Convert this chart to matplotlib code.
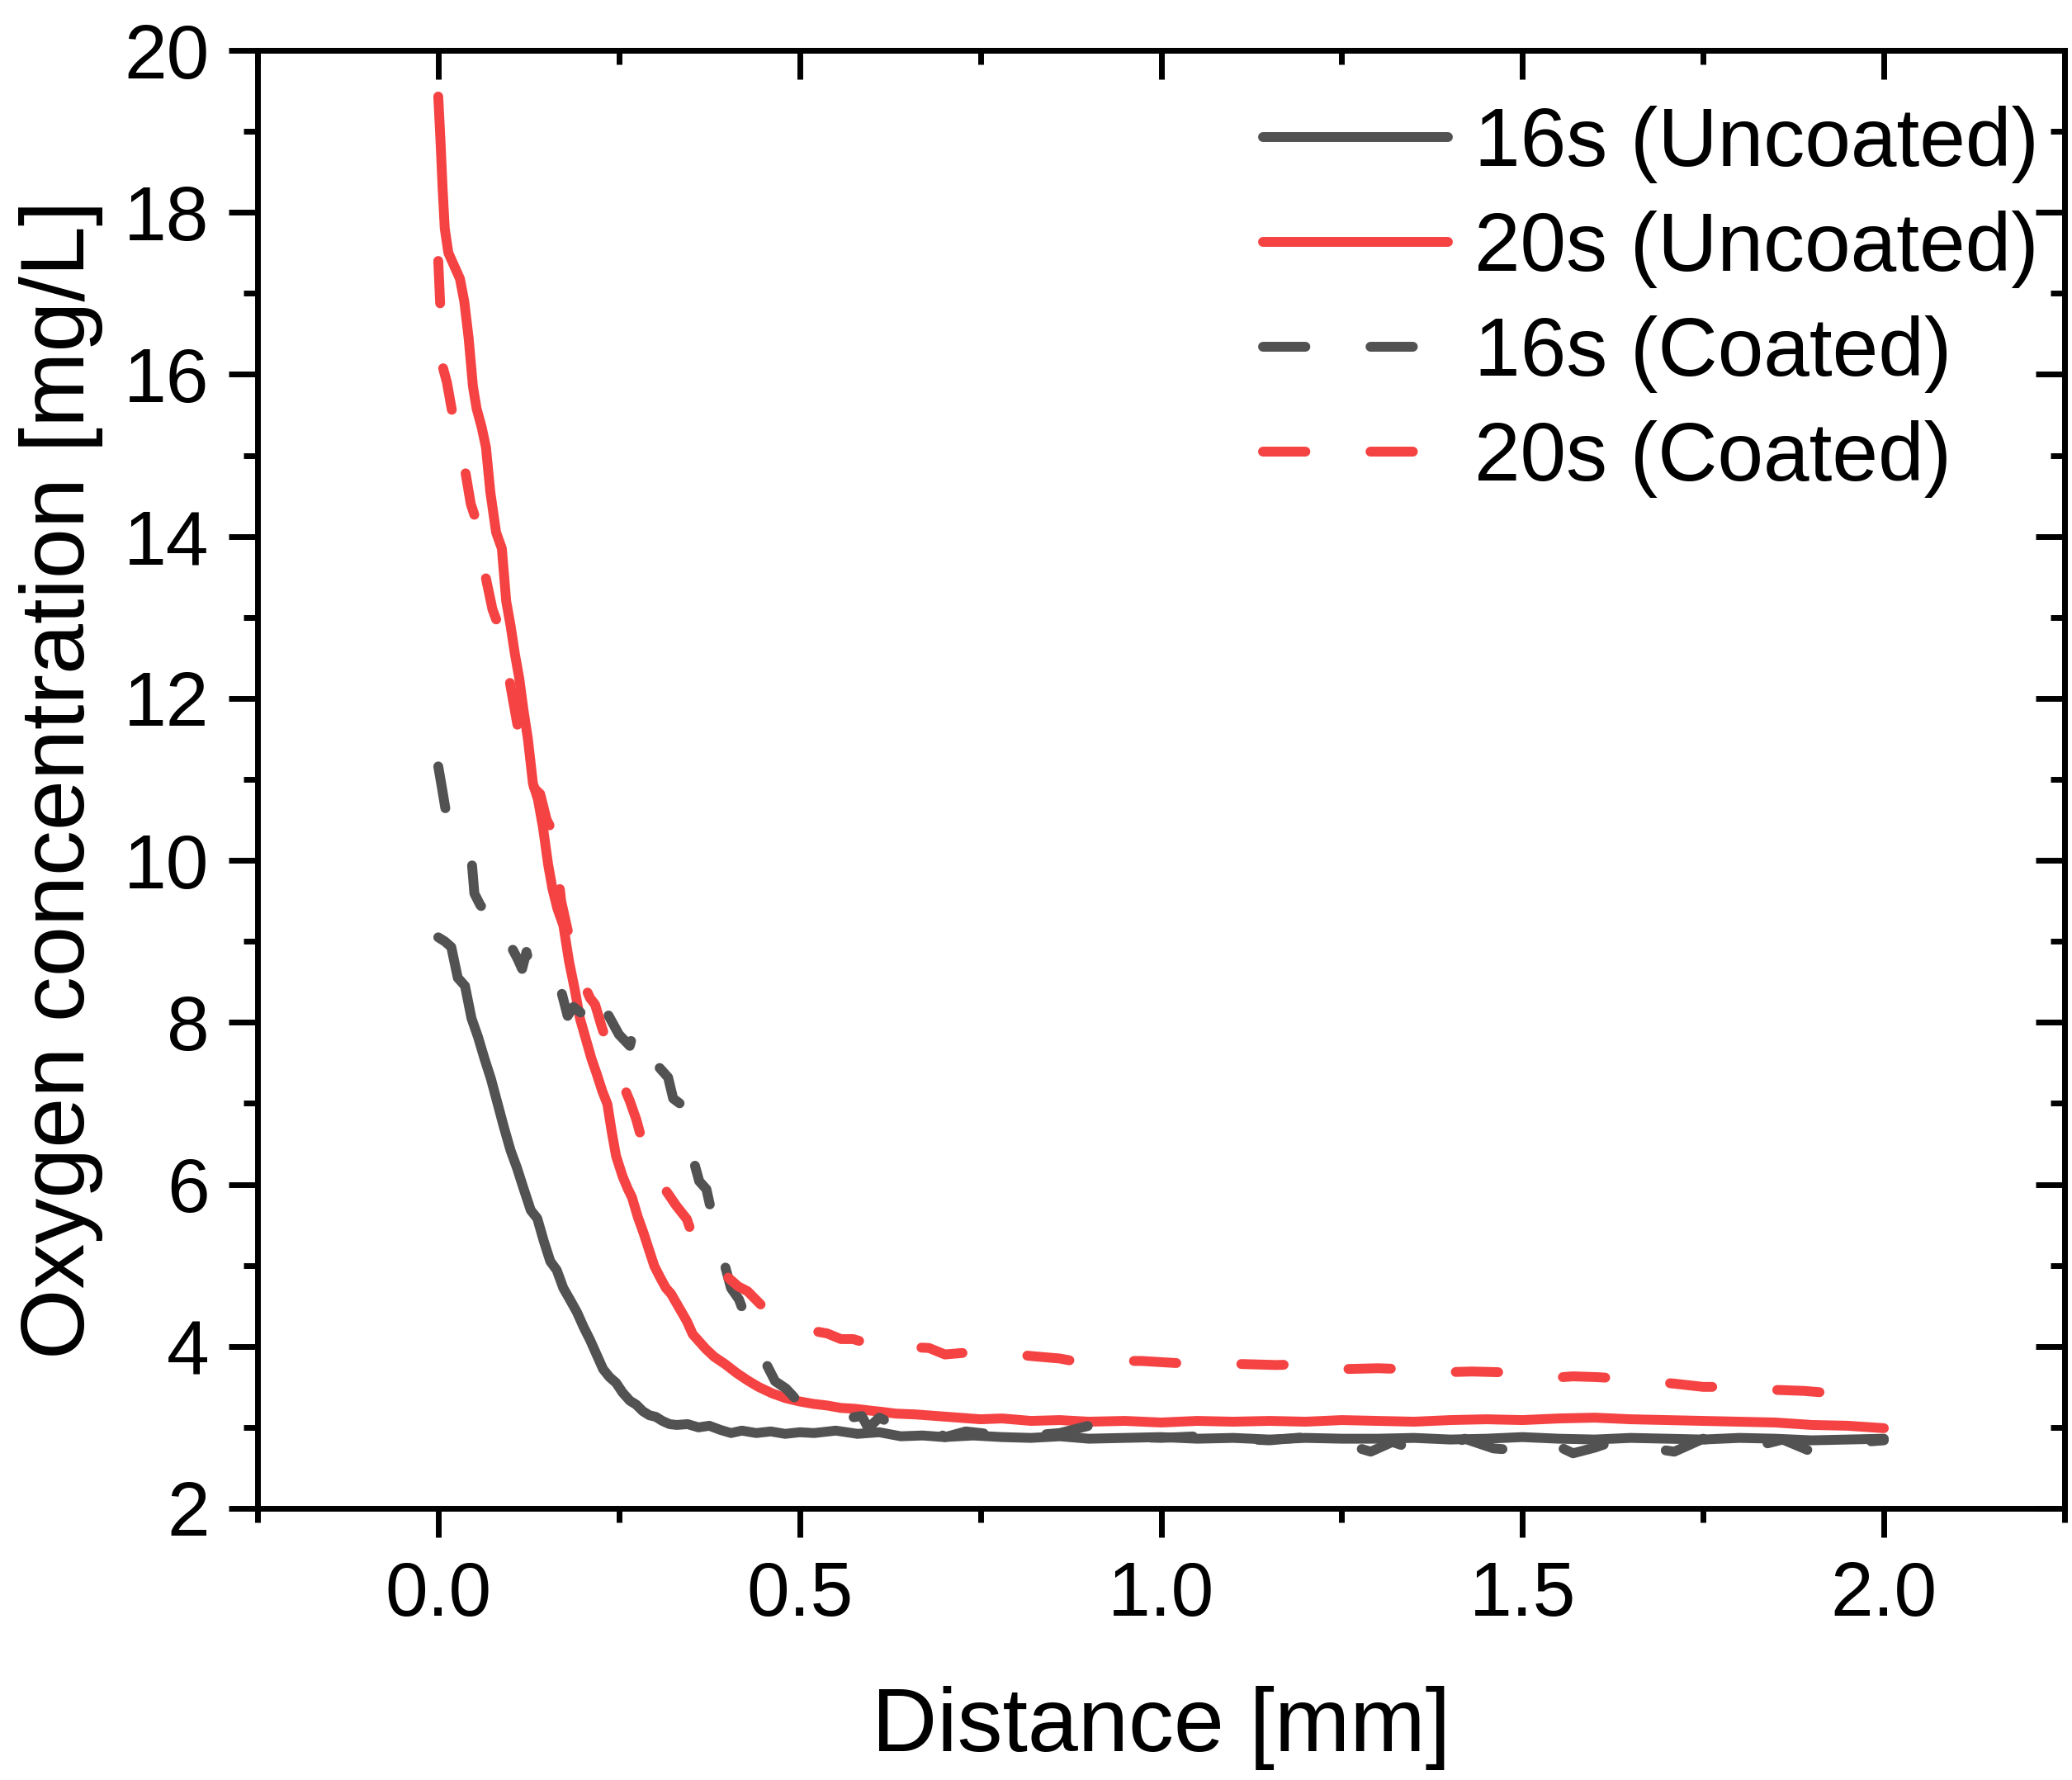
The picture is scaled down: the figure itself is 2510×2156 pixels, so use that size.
import matplotlib
matplotlib.use("Agg")
import matplotlib.pyplot as plt
from matplotlib.ticker import MultipleLocator

plt.rcParams['font.family'] = ['Liberation Sans', 'DejaVu Sans']

# ---------------- data ----------------
x_16u = [0.000, 0.009, 0.018, 0.027, 0.037, 0.046, 0.055, 0.064, 0.073, 0.082,
         0.091, 0.100, 0.109, 0.118, 0.128, 0.137, 0.146, 0.155, 0.164, 0.173,
         0.182, 0.192, 0.201, 0.210, 0.219, 0.228, 0.237, 0.246, 0.255, 0.265,
         0.274, 0.283, 0.292, 0.301, 0.310, 0.320, 0.330, 0.345, 0.360, 0.375,
         0.390, 0.405, 0.42, 0.44, 0.46, 0.48, 0.50, 0.52, 0.55, 0.58,
         0.61, 0.64, 0.67, 0.70, 0.74, 0.78, 0.82, 0.86, 0.90, 0.95,
         1.00, 1.05, 1.10, 1.15, 1.20, 1.25, 1.30, 1.35, 1.40, 1.45,
         1.50, 1.55, 1.60, 1.65, 1.70, 1.75, 1.80, 1.85, 1.90, 1.95, 2.00]
y_16u = [9.05, 9.00, 8.93, 8.55, 8.45, 8.05, 7.82, 7.55, 7.30, 7.00,
         6.70, 6.42, 6.20, 5.95, 5.68, 5.58, 5.30, 5.05, 4.94, 4.72,
         4.58, 4.42, 4.24, 4.08, 3.90, 3.72, 3.62, 3.55, 3.43, 3.33,
         3.28, 3.20, 3.15, 3.13, 3.08, 3.04, 3.03, 3.04, 3.00, 3.02,
         2.97, 2.93, 2.96, 2.93, 2.95, 2.92, 2.94, 2.93, 2.96, 2.92,
         2.94, 2.89, 2.90, 2.88, 2.90, 2.88, 2.87, 2.89, 2.86, 2.87,
         2.88, 2.86, 2.87, 2.85, 2.87, 2.86, 2.86, 2.87, 2.85, 2.86,
         2.88, 2.86, 2.85, 2.87, 2.86, 2.85, 2.87, 2.86, 2.84, 2.85, 2.86]

x_20u = [0.000, 0.003, 0.006, 0.009, 0.014, 0.020, 0.030, 0.036, 0.042, 0.048,
         0.053, 0.060, 0.066, 0.072, 0.080, 0.088, 0.094, 0.100, 0.106, 0.112,
         0.118, 0.124, 0.131, 0.138, 0.145, 0.152, 0.158, 0.165, 0.173, 0.181,
         0.189, 0.196, 0.204, 0.212, 0.219, 0.227, 0.234, 0.240, 0.246, 0.255,
         0.262, 0.268, 0.276, 0.284, 0.292, 0.299, 0.307, 0.315, 0.322, 0.333,
         0.344, 0.352, 0.359, 0.370, 0.382, 0.397, 0.413, 0.428, 0.443, 0.462,
         0.481, 0.500, 0.519, 0.538, 0.557, 0.576, 0.595, 0.615, 0.633, 0.66,
         0.69, 0.72, 0.75, 0.78, 0.82, 0.86, 0.90, 0.95, 1.00, 1.05,
         1.10, 1.15, 1.20, 1.25, 1.30, 1.35, 1.40, 1.45, 1.50, 1.55,
         1.60, 1.65, 1.70, 1.75, 1.80, 1.85, 1.90, 1.95, 2.00]
y_20u = [19.43, 18.90, 18.30, 17.80, 17.50, 17.38, 17.18, 16.90, 16.45, 15.85,
         15.58, 15.35, 15.10, 14.55, 14.05, 13.85, 13.20, 12.90, 12.55, 12.25,
         11.85, 11.50, 10.95, 10.75, 10.40, 9.95, 9.65, 9.40, 9.20, 8.75,
         8.40, 8.05, 7.80, 7.55, 7.37, 7.15, 6.99, 6.65, 6.35, 6.10,
         5.95, 5.84, 5.60, 5.40, 5.18, 4.99, 4.85, 4.72, 4.65, 4.48,
         4.31, 4.15, 4.08, 3.97, 3.87, 3.78, 3.67, 3.58, 3.50, 3.42,
         3.36, 3.32, 3.29, 3.27, 3.24, 3.23, 3.21, 3.19, 3.17, 3.16,
         3.14, 3.12, 3.10, 3.11, 3.08, 3.09, 3.07, 3.08, 3.06, 3.08,
         3.07, 3.08, 3.07, 3.09, 3.08, 3.07, 3.09, 3.10, 3.09, 3.11,
         3.12, 3.10, 3.09, 3.08, 3.07, 3.06, 3.03, 3.02, 2.99]

x_16c = [0.000, 0.005, 0.011, 0.020, 0.030, 0.034, 0.040, 0.046, 0.050, 0.058,
         0.068, 0.075, 0.082, 0.090, 0.100, 0.110, 0.116, 0.122, 0.131, 0.145,
         0.160, 0.170, 0.179, 0.187, 0.200, 0.215, 0.219, 0.234, 0.250, 0.265,
         0.272, 0.278, 0.295, 0.318, 0.325, 0.337, 0.339, 0.350, 0.361, 0.371,
         0.382, 0.395, 0.405, 0.416, 0.432, 0.450, 0.466, 0.481, 0.504, 0.530,
         0.563, 0.586, 0.595, 0.610, 0.640, 0.667, 0.690, 0.701, 0.730, 0.760,
         0.790, 0.820, 0.860, 0.900, 0.930, 0.960, 1.000, 1.050, 1.100, 1.150,
         1.200, 1.230, 1.260, 1.290, 1.320, 1.350, 1.380, 1.420, 1.460, 1.490,
         1.530, 1.570, 1.600, 1.640, 1.680, 1.710, 1.750, 1.790, 1.820, 1.860,
         1.900, 1.940, 1.970, 2.000]
y_16c = [11.16, 10.90, 10.58, 10.40, 10.20, 10.10, 10.06, 10.02, 9.59, 9.45,
         9.34, 9.40, 9.39, 9.17, 8.95, 8.78, 8.66, 8.87, 8.54, 8.40,
         8.31, 8.39, 8.08, 8.19, 8.10, 7.98, 7.78, 8.11, 7.85, 7.71,
         7.95, 7.71, 7.55, 7.32, 7.06, 6.98, 6.78, 6.40, 6.04, 5.94,
         5.50, 5.05, 4.72, 4.58, 4.20, 3.85, 3.57, 3.48, 3.26, 3.18,
         3.11, 3.14, 2.99, 3.12, 3.00, 3.07, 2.95, 2.88, 2.95, 2.92,
         3.00, 2.90, 2.93, 3.02, 2.90, 2.88, 2.87, 2.89, 2.86, 2.84,
         2.88, 2.74, 2.78, 2.70, 2.82, 2.73, 2.68, 2.86, 2.74, 2.72,
         2.85, 2.68, 2.75, 2.87, 2.74, 2.70, 2.86, 2.72, 2.76, 2.85,
         2.70, 2.78, 2.82, 2.84]

x_20c = [0.000, 0.003, 0.006, 0.012, 0.020, 0.030, 0.038, 0.045, 0.052, 0.060,
         0.066, 0.075, 0.084, 0.095, 0.105, 0.115, 0.125, 0.135, 0.141, 0.150,
         0.160, 0.170, 0.180, 0.190, 0.200, 0.210, 0.217, 0.226, 0.236, 0.250,
         0.265, 0.274, 0.282, 0.300, 0.316, 0.329, 0.344, 0.352, 0.370, 0.385,
         0.401, 0.415, 0.428, 0.449, 0.47, 0.50, 0.519, 0.538, 0.557, 0.574,
         0.60, 0.62, 0.643, 0.656, 0.679, 0.701, 0.74, 0.771, 0.80, 0.821,
         0.86, 0.902, 0.94, 0.973, 1.01, 1.048, 1.08, 1.119, 1.16, 1.194,
         1.225, 1.255, 1.30, 1.333, 1.36, 1.392, 1.43, 1.472, 1.51, 1.540,
         1.57, 1.604, 1.64, 1.675, 1.71, 1.75, 1.78, 1.82, 1.86, 1.89,
         1.93, 1.96, 2.00]
y_20c = [17.40, 16.80, 16.10, 15.90, 15.50, 15.10, 14.77, 14.40, 14.21, 13.60,
         13.48, 13.10, 12.88, 12.40, 11.90, 11.40, 11.00, 10.87, 10.82, 10.50,
         10.33, 9.50, 9.10, 8.80, 8.50, 8.30, 8.22, 7.95, 7.68, 7.35,
         7.03, 6.80, 6.54, 6.20, 5.91, 5.74, 5.57, 5.36, 5.10, 4.95,
         4.85, 4.74, 4.68, 4.49, 4.35, 4.22, 4.19, 4.16, 4.09, 4.09,
         4.02, 4.00, 3.93, 3.99, 3.98, 3.90, 3.93, 3.93, 3.90, 3.88,
         3.85, 3.78, 3.82, 3.82, 3.80, 3.78, 3.79, 3.78, 3.77, 3.78,
         3.76, 3.72, 3.73, 3.72, 3.70, 3.68, 3.69, 3.68, 3.64, 3.61,
         3.63, 3.62, 3.60, 3.57, 3.54, 3.50, 3.50, 3.47, 3.46, 3.45,
         3.42, 3.40, 3.38]

labels = ["16s (Uncoated)", "20s (Uncoated)", "16s (Coated)", "20s (Coated)"]
gray = "#525252"
red = "#F54343"

# ---------------- figure ----------------
DPI = 100
fig = plt.figure(figsize=(25.10, 21.56), dpi=DPI)
ax = fig.add_axes([312/2510, 1 - 1827/2156, (2501-312)/2510, (1827-61)/2156])

lw = 8.6
dash = (4.3, 6.6)
kw = dict(lw=lw, solid_capstyle='round', dash_capstyle='round', solid_joinstyle='round')
ax.plot(x_16u, y_16u, color=gray, label=labels[0], **kw)
ax.plot(x_20u, y_20u, color=red, label=labels[1], **kw)
ax.plot(x_16c, y_16c, color=gray, label=labels[2], dashes=dash, **kw)
ax.plot(x_20c, y_20c, color=red, label=labels[3], dashes=dash, **kw)

ax.set_xlim(-0.25, 2.25)
ax.set_ylim(2, 20)
ax.xaxis.set_major_locator(MultipleLocator(0.5))
ax.xaxis.set_minor_locator(MultipleLocator(0.25))
ax.yaxis.set_major_locator(MultipleLocator(2))
ax.yaxis.set_minor_locator(MultipleLocator(1))
ax.set_xticks([0.0, 0.5, 1.0, 1.5, 2.0])
ax.set_xticklabels(["0.0", "0.5", "1.0", "1.5", "2.0"])

for s in ax.spines.values():
    s.set_linewidth(5)

ax.tick_params(axis='both', which='major', length=25, width=5, labelsize=67)
ax.tick_params(axis='both', which='minor', length=12, width=5)
ax.tick_params(axis='x', which='both', direction='out', pad=20)
ax.tick_params(axis='y', which='both', direction='out', pad=17)

# top / right inward ticks via secondary axes
axt = ax.secondary_xaxis('top')
axt.xaxis.set_major_locator(MultipleLocator(0.5))
axt.xaxis.set_minor_locator(MultipleLocator(0.25))
axt.tick_params(which='major', direction='in', length=25, width=5, labeltop=False)
axt.tick_params(which='minor', direction='in', length=12, width=5)
axt.spines['top'].set_linewidth(5)
axr = ax.secondary_yaxis('right')
axr.yaxis.set_major_locator(MultipleLocator(2))
axr.yaxis.set_minor_locator(MultipleLocator(1))
axr.tick_params(which='major', direction='in', length=25, width=5, labelright=False)
axr.tick_params(which='minor', direction='in', length=12, width=5)
axr.spines['right'].set_linewidth(5)

ax.set_xlabel("Distance [mm]", fontsize=79, labelpad=48)
ax.set_ylabel("Oxygen concentration [mg/L]", fontsize=79, labelpad=18)

leg = ax.legend(loc='upper right', bbox_to_anchor=(2470/2510, 1 - 128/2156),
                bbox_transform=fig.transFigure, frameon=False, fontsize=72,
                handlelength=2.24, handletextpad=0.32, labelspacing=0.33,
                borderpad=0, borderaxespad=0)

fig.savefig("out.png", dpi=DPI)
